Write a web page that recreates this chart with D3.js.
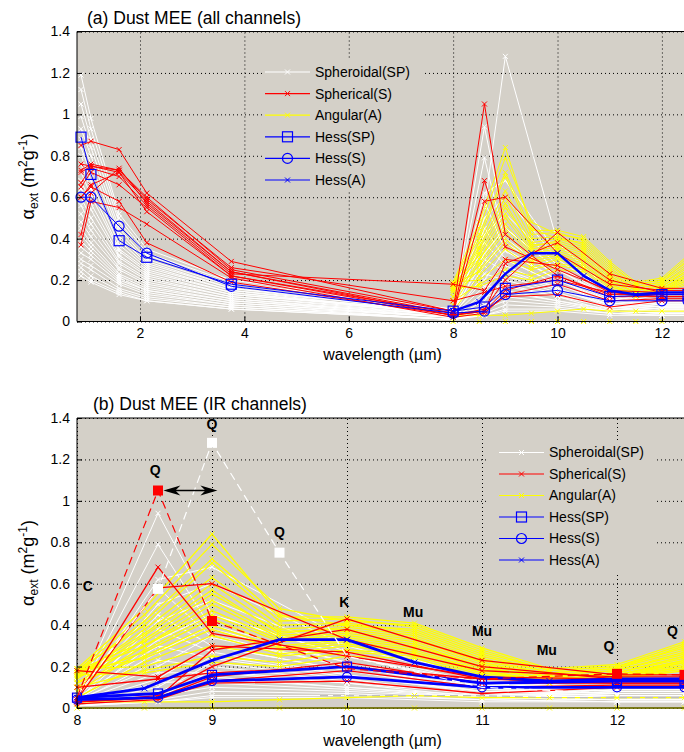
<!DOCTYPE html>
<html><head><meta charset="utf-8">
<script src="https://cdn.jsdelivr.net/npm/d3@7"></script>
<style>
body{margin:0;background:#fff;}
svg text{font-family:"Liberation Sans",Arial,Helvetica,sans-serif;}
</style>
</head><body>
<svg id="chart" width="684" height="752"></svg>
<script>
// ---------------- DATA ----------------
// wavelengths (µm) of the Spheroidal / Spherical / Hess(SP) / Hess(S) channels
const wlSP = [0.87, 1.06, 1.6, 2.13, 3.75, 8.0, 8.6, 9.0, 10.0, 11.0, 12.0, 12.5];
// wavelengths (µm) of the Angular / Hess(A) channels
const wlA = [8.0, 8.5, 9.0, 9.5, 10.0, 10.5, 11.0, 11.5, 12.0, 12.5];

// Spheroidal(SP) MEE curves (white)
const spheroidal = [
 [1.19,0.98,0.52,0.35,0.20, 0.06,0.55,1.28,0.38,0.15,0.10,0.10],
 [1.12,0.93,0.50,0.33,0.19, 0.05,0.94,0.45,0.25,0.12,0.09,0.09],
 [1.05,0.88,0.48,0.32,0.18, 0.05,0.79,0.38,0.22,0.11,0.08,0.08],
 [0.99,0.84,0.45,0.30,0.17, 0.04,0.62,0.68,0.33,0.14,0.09,0.09],
 [0.93,0.80,0.43,0.29,0.16, 0.04,0.58,0.34,0.20,0.10,0.08,0.08],
 [0.88,0.76,0.41,0.28,0.16, 0.06,0.50,0.60,0.30,0.13,0.09,0.09],
 [0.84,0.71,0.39,0.27,0.15, 0.03,0.45,0.30,0.18,0.09,0.07,0.07],
 [0.80,0.68,0.37,0.26,0.15, 0.05,0.42,0.52,0.27,0.12,0.08,0.08],
 [0.76,0.64,0.35,0.25,0.14, 0.04,0.38,0.27,0.16,0.08,0.07,0.07],
 [0.72,0.61,0.34,0.24,0.14, 0.03,0.33,0.45,0.25,0.11,0.08,0.08],
 [0.68,0.57,0.32,0.23,0.13, 0.05,0.30,0.24,0.15,0.08,0.06,0.06],
 [0.64,0.54,0.31,0.22,0.13, 0.04,0.27,0.40,0.22,0.10,0.07,0.07],
 [0.60,0.50,0.29,0.21,0.12, 0.03,0.23,0.20,0.13,0.07,0.06,0.06],
 [0.56,0.47,0.28,0.20,0.12, 0.04,0.20,0.35,0.20,0.09,0.07,0.07],
 [0.52,0.44,0.26,0.19,0.11, 0.03,0.17,0.17,0.12,0.07,0.05,0.05],
 [0.48,0.41,0.25,0.18,0.11, 0.02,0.14,0.30,0.18,0.08,0.06,0.06],
 [0.45,0.38,0.23,0.17,0.10, 0.03,0.12,0.14,0.10,0.06,0.05,0.05],
 [0.42,0.36,0.22,0.16,0.10, 0.02,0.10,0.25,0.16,0.07,0.05,0.05],
 [0.39,0.34,0.21,0.15,0.09, 0.02,0.08,0.12,0.09,0.05,0.04,0.04],
 [0.36,0.32,0.20,0.15,0.09, 0.02,0.07,0.22,0.14,0.06,0.05,0.05],
 [0.33,0.30,0.19,0.14,0.08, 0.02,0.06,0.10,0.08,0.05,0.04,0.04],
 [0.30,0.27,0.18,0.13,0.08, 0.01,0.05,0.18,0.12,0.05,0.04,0.04],
 [0.28,0.25,0.16,0.12,0.07, 0.01,0.04,0.08,0.07,0.04,0.03,0.03],
 [0.26,0.22,0.15,0.11,0.07, 0.01,0.04,0.15,0.10,0.05,0.04,0.04],
 [0.24,0.20,0.14,0.10,0.06, 0.01,0.03,0.06,0.06,0.04,0.03,0.03],
 [0.22,0.19,0.13,0.10,0.06, 0.01,0.03,0.05,0.05,0.03,0.03,0.03]
];

// Spherical(S) MEE curves (red)
const spherical = [
 [0.85,0.87,0.83,0.62,0.29, 0.05,1.05,0.42,0.22,0.13,0.13,0.13],
 [0.73,0.76,0.73,0.60,0.25, 0.05,0.68,0.36,0.25,0.15,0.14,0.14],
 [0.72,0.75,0.72,0.58,0.24, 0.04,0.58,0.60,0.33,0.18,0.15,0.15],
 [0.67,0.74,0.70,0.56,0.23, 0.18,0.15,0.30,0.27,0.14,0.13,0.13],
 [0.65,0.72,0.66,0.55,0.22, 0.03,0.06,0.20,0.43,0.23,0.16,0.16],
 [0.60,0.66,0.72,0.53,0.22, 0.04,0.05,0.28,0.38,0.20,0.14,0.14],
 [0.42,0.62,0.74,0.57,0.24, 0.03,0.05,0.15,0.22,0.12,0.12,0.12],
 [0.37,0.58,0.55,0.47,0.21, 0.02,0.04,0.13,0.18,0.10,0.11,0.11],
 [0.60,0.65,0.58,0.38,0.19, 0.03,0.05,0.12,0.13,0.07,0.10,0.10],
 [0.76,0.75,0.73,0.59,0.26, 0.10,0.14,0.17,0.20,0.14,0.12,0.12]
];

// Angular(A) MEE curves (yellow), IR only
const angular = [
 [0.19,0.48,0.84,0.45,0.40,0.38,0.26,0.17,0.19,0.30],
 [0.18,0.45,0.79,0.48,0.42,0.40,0.28,0.18,0.20,0.31],
 [0.17,0.42,0.72,0.44,0.44,0.41,0.29,0.19,0.21,0.32],
 [0.18,0.40,0.70,0.42,0.43,0.39,0.27,0.18,0.20,0.29],
 [0.15,0.38,0.63,0.40,0.41,0.37,0.25,0.17,0.19,0.28],
 [0.16,0.36,0.60,0.38,0.40,0.36,0.24,0.16,0.18,0.27],
 [0.14,0.35,0.57,0.36,0.39,0.35,0.23,0.16,0.18,0.26],
 [0.12,0.33,0.55,0.37,0.38,0.34,0.22,0.15,0.17,0.25],
 [0.18,0.32,0.52,0.35,0.37,0.33,0.22,0.15,0.17,0.25],
 [0.10,0.30,0.50,0.34,0.36,0.32,0.21,0.15,0.17,0.24],
 [0.17,0.30,0.47,0.33,0.35,0.31,0.20,0.14,0.16,0.23],
 [0.08,0.28,0.45,0.32,0.34,0.30,0.20,0.14,0.16,0.23],
 [0.15,0.27,0.43,0.30,0.33,0.29,0.19,0.14,0.16,0.22],
 [0.12,0.25,0.40,0.29,0.32,0.28,0.18,0.13,0.15,0.22],
 [0.18,0.24,0.38,0.28,0.31,0.27,0.18,0.13,0.15,0.21],
 [0.05,0.22,0.35,0.26,0.30,0.26,0.17,0.13,0.15,0.20],
 [0.19,0.20,0.30,0.25,0.28,0.26,0.17,0.13,0.14,0.20],
 [0.10,0.18,0.25,0.22,0.27,0.25,0.16,0.12,0.14,0.19],
 [0.16,0.17,0.22,0.20,0.25,0.24,0.15,0.12,0.14,0.18],
 [0.03,0.03,0.03,0.04,0.05,0.06,0.05,0.05,0.05,0.05],
 [0.00,0.00,0.00,0.00,0.00,0.00,0.00,0.00,0.00,0.00]
];

// Hess (OPAC) reference curves (blue)
const hessSP = [0.89,0.71,0.39,0.31,0.18, 0.05,0.07,0.16,0.20,0.12,0.13,0.13];
const hessS  = [0.60,0.60,0.46,0.33,0.17, 0.04,0.05,0.13,0.15,0.10,0.10,0.10];
const hessA  = [0.05,0.095,0.23,0.33,0.33,0.22,0.15,0.13,0.14,0.14];

// mineral (quartz) highlighted curves in panel b
const quartzRedWl  = [8.0, 8.6, 9.0, 10.0, 11.0, 12.0, 12.5];
const quartzRedVal = [0.05, 1.05, 0.42, 0.19, 0.14, 0.165, 0.16];
const quartzRedSqWl  = [8.6, 9.0, 12.0, 12.5];
const quartzRedSqVal = [1.05, 0.42, 0.165, 0.16];
const quartzWhiteWl  = [8.0, 8.6, 9.0, 9.5, 10.0, 11.0, 12.0, 12.5];
const quartzWhiteVal = [0.06, 0.575, 1.28, 0.75, 0.25, 0.10, 0.07, 0.07];
const quartzWhiteSqWl  = [8.6, 9.0, 9.5];
const quartzWhiteSqVal = [0.575, 1.28, 0.75];
const greyDashWl  = [9.8, 10.5, 11.0, 11.5, 12.0, 12.5];
const greyDashVal = [0.06, 0.06, 0.06, 0.05, 0.05, 0.05];
const arrowWl  = [8.64, 9.04];
const arrowVal = 1.05;
const mineralText = ["Q", "Q", "Q", "C", "K", "Mu", "Mu", "Mu", "Q", "Q"];
const mineralWl   = [8.58, 9.0, 9.5, 8.08, 9.98, 10.49, 11.0, 11.48, 11.94, 12.41];
const mineralVal  = [1.15, 1.37, 0.85, 0.59, 0.51, 0.465, 0.37, 0.28, 0.30, 0.373];

// axes
const yTicks = [0, 0.2, 0.4, 0.6, 0.8, 1.0, 1.2, 1.4];
const yTickLabels = ["0", "0.2", "0.4", "0.6", "0.8", "1", "1.2", "1.4"];
const xTicksA = [2, 4, 6, 8, 10, 12];
const xTicksB = [8, 9, 10, 11, 12];
const legendNames = ["Spheroidal(SP)", "Spherical(S)", "Angular(A)", "Hess(SP)", "Hess(S)", "Hess(A)"];

// ---------------- DRAWING ----------------
const BG = "#d4d0c8";
const WHITE = "#ffffff", RED = "#ff0000", YELLOW = "#ffff00", BLUE = "#0000ff";
const svg = d3.select("#chart");

function xMark(g, px, py, s, color, w) {
  g.append("path").attr("d", `M${px-s},${py-s}L${px+s},${py+s}M${px-s},${py+s}L${px+s},${py-s}`)
    .attr("stroke", color).attr("stroke-width", w || 1).attr("fill", "none");
}

function panel(o) {
  const g = svg.append("g");
  const x = d3.scaleLinear().domain(o.xDomain).range([o.left, o.right]);
  const y = d3.scaleLinear().domain([0, 1.4]).range([o.bottom, o.top]);
  const W = o.right - o.left, H = o.bottom - o.top;

  g.append("rect").attr("x", o.left).attr("y", o.top).attr("width", W).attr("height", H).attr("fill", BG);

  // grid
  const gx = g.append("g").attr("transform", `translate(0,${o.bottom})`)
    .call(d3.axisBottom(x).tickValues(o.xTicks).tickSize(-H).tickFormat(""));
  gx.select(".domain").remove();
  gx.selectAll("line").attr("stroke", "#000").attr("stroke-dasharray", "1,3");
  const gy = g.append("g").attr("transform", `translate(${o.left},0)`)
    .call(d3.axisLeft(y).tickValues(yTicks).tickSize(-W).tickFormat(""));
  gy.select(".domain").remove();
  gy.selectAll("line").attr("stroke", "#000").attr("stroke-dasharray", "1,3");

  const xmin = o.xDomain[0];
  const line = d3.line().x(d => x(d[0])).y(d => y(d[1]));
  const pts = (wl, vals) => wl.map((w, i) => [w, vals[i]]).filter(d => d[0] >= xmin - 1e-9);
  const data = g.append("g");

  function series(wl, vals, color, lw, marker, msize) {
    const p = pts(wl, vals);
    data.append("path").attr("d", line(p)).attr("fill", "none").attr("stroke", color)
      .attr("stroke-width", lw).attr("stroke-linejoin", "round");
    p.forEach(d => {
      const px = x(d[0]), py = y(d[1]);
      if (marker === "x") xMark(data, px, py, msize, color, 1);
      else if (marker === "s") data.append("rect").attr("x", px - msize).attr("y", py - msize)
        .attr("width", 2 * msize).attr("height", 2 * msize).attr("fill", "none").attr("stroke", color).attr("stroke-width", 1.2);
      else if (marker === "o") data.append("circle").attr("cx", px).attr("cy", py).attr("r", msize)
        .attr("fill", "none").attr("stroke", color).attr("stroke-width", 1.2);
    });
  }

  // in panel b the first (quartz) spheroidal and spherical curves are shown as highlighted dashed curves instead
  spheroidal.forEach((v, i) => { if (!(o.annot && i === 0)) series(wlSP, v, WHITE, 1, "x", 2.5); });
  angular.forEach(v => series(wlA, v, YELLOW, o.lw, "x", 2.5));
  spherical.forEach((v, i) => { if (!(o.annot && i === 0)) series(wlSP, v, RED, o.lw, "x", 2.5); });
  series(wlSP, hessSP, BLUE, o.hlw, "s", o.sq);
  series(wlSP, hessS, BLUE, o.hlw, "o", o.sq);
  series(wlA, hessA, BLUE, o.alw, "x", 3);

  if (o.annot) {
    const a = g.append("g");
    a.append("path").attr("d", line(pts(greyDashWl, greyDashVal))).attr("fill", "none")
      .attr("stroke", "#bdbdbd").attr("stroke-width", 1.2).attr("stroke-dasharray", "8,5");
    a.append("path").attr("d", line(pts(quartzWhiteWl, quartzWhiteVal))).attr("fill", "none")
      .attr("stroke", "#ffffff").attr("stroke-width", 1.2).attr("stroke-dasharray", "8,5");
    a.append("path").attr("d", line(pts(quartzRedWl, quartzRedVal))).attr("fill", "none")
      .attr("stroke", RED).attr("stroke-width", 1.2).attr("stroke-dasharray", "8,5");
    quartzRedSqWl.forEach((w, i) => a.append("rect").attr("x", x(w) - 5).attr("y", y(quartzRedSqVal[i]) - 5)
      .attr("width", 10).attr("height", 10).attr("fill", RED));
    quartzWhiteSqWl.forEach((w, i) => a.append("rect").attr("x", x(w) - 5).attr("y", y(quartzWhiteSqVal[i]) - 5)
      .attr("width", 10).attr("height", 10).attr("fill", WHITE));
    // double arrow
    const ax0 = x(arrowWl[0]), ax1 = x(arrowWl[1]), ay = y(arrowVal);
    a.append("line").attr("x1", ax0 + 4).attr("x2", ax1 - 4).attr("y1", ay).attr("y2", ay)
      .attr("stroke", "#000").attr("stroke-width", 1.5);
    a.append("path").attr("d", `M${ax0},${ay}L${ax0+17},${ay-5}L${ax0+12},${ay}L${ax0+17},${ay+5}Z`).attr("fill", "#000");
    a.append("path").attr("d", `M${ax1},${ay}L${ax1-17},${ay-5}L${ax1-12},${ay}L${ax1-17},${ay+5}Z`).attr("fill", "#000");
    mineralText.forEach((t, i) => a.append("text").attr("x", x(mineralWl[i])).attr("y", y(mineralVal[i]))
      .attr("dy", "0.35em").attr("text-anchor", "middle").attr("font-size", 14).attr("font-weight", "bold")
      .attr("fill", "#000").text(t));
  }

  // axes box
  g.append("line").attr("x1", o.left).attr("x2", o.right).attr("y1", o.top).attr("y2", o.top).attr("stroke", "#000");
  g.append("line").attr("x1", o.left).attr("x2", o.right).attr("y1", o.bottom).attr("y2", o.bottom).attr("stroke", "#000");
  g.append("line").attr("x1", o.left).attr("x2", o.left).attr("y1", o.top).attr("y2", o.bottom).attr("stroke", "#000");

  const ax = g.append("g").attr("transform", `translate(0,${o.bottom})`)
    .call(d3.axisBottom(x).tickValues(o.xTicks).tickSizeInner(-5).tickSizeOuter(0).tickPadding(7).tickFormat(d3.format("d")));
  ax.select(".domain").remove();
  ax.selectAll("text").attr("font-size", 14).attr("fill", "#000").attr("font-family", null);
  ax.selectAll("line").attr("stroke", "#000");
  const ay2 = g.append("g").attr("transform", `translate(${o.left},0)`)
    .call(d3.axisLeft(y).tickValues(yTicks).tickSizeInner(-5).tickSizeOuter(0).tickPadding(7)
      .tickFormat((d, i) => yTickLabels[i]));
  ay2.select(".domain").remove();
  ay2.selectAll("text").attr("font-size", 14).attr("fill", "#000").attr("font-family", null);
  ay2.selectAll("line").attr("stroke", "#000");

  // titles / labels
  g.append("text").attr("x", o.titleX).attr("y", o.titleY).attr("font-size", 17.5).attr("fill", "#000").text(o.title);
  g.append("text").attr("x", (o.left + 688) / 2).attr("y", o.bottom + 38).attr("text-anchor", "middle")
    .attr("font-size", 16).attr("fill", "#000").text("wavelength (µm)");
  const yl = g.append("text").attr("transform", `translate(34,${(o.top + o.bottom) / 2}) rotate(-90)`)
    .attr("text-anchor", "middle").attr("font-size", 18).attr("fill", "#000");
  yl.append("tspan").text("α");
  yl.append("tspan").attr("font-size", 12).attr("dy", 4).text("ext");
  yl.append("tspan").attr("dy", -4).text(" (m");
  yl.append("tspan").attr("font-size", 12).attr("dy", -7).text("2");
  yl.append("tspan").attr("dy", 7).text("g");
  yl.append("tspan").attr("font-size", 12).attr("dy", -7).text("-1");
  yl.append("tspan").attr("dy", 7).text(")");

  // legend
  const L = o.legend;
  g.append("rect").attr("x", L.x0).attr("y", L.y0).attr("width", L.w).attr("height", L.h).attr("fill", BG);
  const colors = [WHITE, RED, YELLOW, BLUE, BLUE, BLUE];
  const marks = ["x", "x", "x", "s", "o", "x"];
  legendNames.forEach((name, i) => {
    const yy = L.rows[0] + i * L.step;
    g.append("line").attr("x1", L.lx0).attr("x2", L.lx1).attr("y1", yy).attr("y2", yy)
      .attr("stroke", colors[i]).attr("stroke-width", 1.2);
    const mx = (L.lx0 + L.lx1) / 2;
    if (marks[i] === "x") xMark(g, mx, yy, 2.5, colors[i], 1);
    else if (marks[i] === "s") g.append("rect").attr("x", mx - 5).attr("y", yy - 5).attr("width", 10).attr("height", 10)
      .attr("fill", "none").attr("stroke", BLUE).attr("stroke-width", 1.2);
    else g.append("circle").attr("cx", mx).attr("cy", yy).attr("r", 5).attr("fill", "none").attr("stroke", BLUE).attr("stroke-width", 1.2);
    g.append("text").attr("x", L.tx).attr("y", yy).attr("dy", "0.35em").attr("font-size", 14).attr("fill", "#000").text(name);
  });
}

panel({
  xDomain: [0.793, 12.5], xTicks: xTicksA, left: 77, right: 688, top: 31.5, bottom: 321.5,
  lw: 1, hlw: 1, alw: 2.5, sq: 5, annot: false,
  title: "(a) Dust MEE (all channels)", titleX: 87, titleY: 24,
  legend: { x0: 262, y0: 60, w: 160, h: 132, rows: [72], step: 21.6, lx0: 265, lx1: 310, tx: 315 }
});
panel({
  xDomain: [8, 12.5], xTicks: xTicksB, left: 77, right: 684.5, top: 418, bottom: 708,
  lw: 1.3, hlw: 2.8, alw: 2.8, sq: 4.5, annot: true,
  title: "(b) Dust MEE (IR channels)", titleX: 93, titleY: 410,
  legend: { x0: 487, y0: 440, w: 168, h: 132, rows: [452.5], step: 21.5, lx0: 499, lx1: 544, tx: 549 }
});
</script>
</body></html>
